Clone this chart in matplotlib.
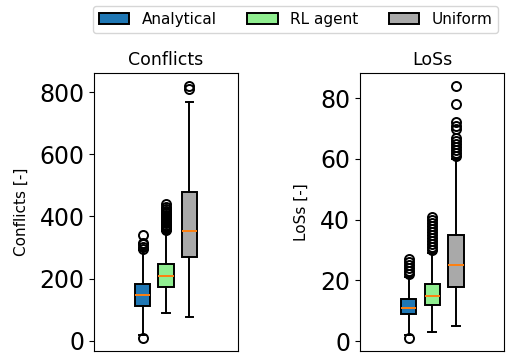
import numpy as np
import matplotlib
matplotlib.use("Agg")
import matplotlib.pyplot as plt
from matplotlib.patches import Patch

plt.rcParams["font.family"] = "DejaVu Sans"

# method names and box colours
methods = ["Analytical", "RL agent", "Uniform"]
colors = ["#1f77b4", "#90ee90", "#a9a9a9"]

# conflicts: whisker low, q1, median, q3, whisker high, outliers
conf_whislo = [18, 91, 78]
conf_q1 = [112, 174, 271]
conf_med = [146, 208, 353]
conf_q3 = [184, 247, 479]
conf_whishi = [292, 353, 769]
conf_fliers = [
    [8, 296, 303, 310, 315, 342],
    [356, 360, 363, 367, 370, 374, 378, 382, 386, 390, 395, 400, 405,
     410, 418, 425, 432, 440],
    [810, 818],
]

# losses of separation
loss_whislo = [2, 3, 5]
loss_q1 = [9, 12, 18]
loss_med = [11, 15, 25]
loss_q3 = [14, 19, 35]
loss_whishi = [21, 29, 60]
loss_fliers = [
    [1, 22, 23, 24, 25, 26, 27],
    [30, 31, 32, 33, 34, 35, 36, 37, 38, 39, 40, 41],
    [61, 62, 63, 64, 65, 66, 67, 70, 71, 72, 78, 84],
]


def make_stats(whislo, q1, med, q3, whishi, fliers):
    stats = []
    for i in range(len(methods)):
        stats.append(dict(whislo=whislo[i], q1=q1[i], med=med[i], q3=q3[i],
                          whishi=whishi[i], fliers=fliers[i], label=methods[i]))
    return stats


fig = plt.figure(figsize=(5.07, 3.58), dpi=100)
ax1 = fig.add_axes([0.186, 0.02, 0.283, 0.775])
ax2 = fig.add_axes([0.710, 0.02, 0.285, 0.775])

panels = [
    (ax1, make_stats(conf_whislo, conf_q1, conf_med, conf_q3, conf_whishi, conf_fliers),
     "Conflicts", "Conflicts [-]"),
    (ax2, make_stats(loss_whislo, loss_q1, loss_med, loss_q3, loss_whishi, loss_fliers),
     "LoSs", "LoSs [-]"),
]

lw = 1.4
for ax, stats, title, ylabel in panels:
    bp = ax.bxp(stats, positions=[1, 2, 3], widths=0.65, patch_artist=True,
                boxprops=dict(linewidth=lw),
                whiskerprops=dict(linewidth=lw),
                capprops=dict(linewidth=lw),
                medianprops=dict(color="#ff7f0e", linewidth=1.4),
                flierprops=dict(marker="o", markerfacecolor="none",
                                markeredgecolor="black", markersize=6.5,
                                markeredgewidth=lw))
    for patch, c in zip(bp["boxes"], colors):
        patch.set_facecolor(c)
        patch.set_edgecolor("black")
    ax.set_xlim(2 - 3.06, 2 + 3.06)
    ax.set_xticks([])
    ax.set_title(title, fontsize=12.5)
    ax.set_ylabel(ylabel, fontsize=11, labelpad=8)
    ax.tick_params(axis="y", labelsize=17)

ax1.set_ylim(-32, 860)
ax1.set_yticks([0, 200, 400, 600, 800])
ax2.set_ylim(-3.15, 88.15)
ax2.set_yticks([0, 20, 40, 60, 80])

handles = [Patch(facecolor=c, edgecolor="black", linewidth=lw, label=m)
           for m, c in zip(methods, colors)]
fig.legend(handles=handles, loc="upper center", bbox_to_anchor=(0.583, 1.005),
           ncol=3, fontsize=11, columnspacing=2.0)

fig.savefig("out.png", dpi=100)
